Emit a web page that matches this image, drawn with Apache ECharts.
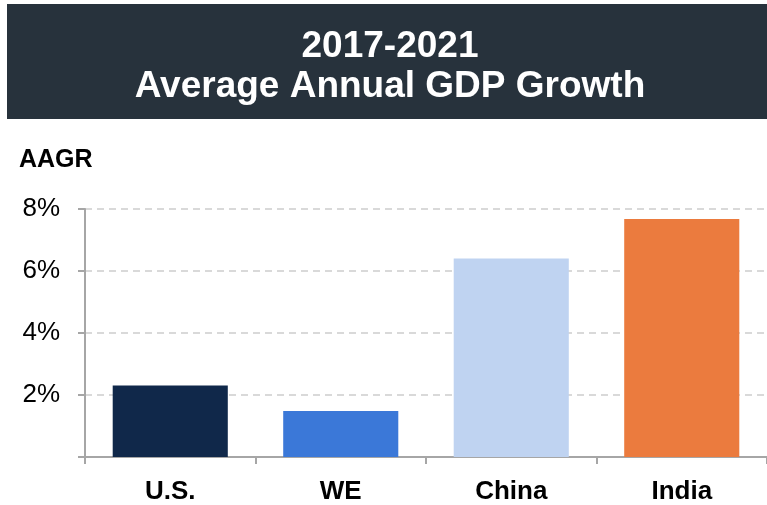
<!DOCTYPE html>
<html>
<head>
<meta charset="utf-8">
<script src="https://cdn.jsdelivr.net/npm/echarts@6/dist/echarts.min.js"></script>
<style>
html,body{margin:0;padding:0;background:#fff;}
#c{width:767px;height:505px;}
</style>
</head>
<body>
<div id="c"></div>
<script>
const categories = ['U.S.', 'WE', 'China', 'India'];
const values = [2.31, 1.48, 6.40, 7.68];
const barColors = ['#10284a', '#3b78d8', '#bfd3f1', '#eb7b3e'];
const yTicks = [0, 2, 4, 6, 8];
const titleLines = ['2017-2021', 'Average Annual GDP Growth'];
const yAxisTitle = 'AAGR';

const chart = echarts.init(document.getElementById('c'), null, {renderer: 'canvas'});
const font = 'Liberation Sans, Arial, Helvetica, sans-serif';
chart.setOption({
  animation: false,
  backgroundColor: '#ffffff',
  graphic: [
    {type: 'rect', shape: {x: 7, y: 4, width: 760, height: 115}, style: {fill: '#27323c'}, z: 0},
    {type: 'text', x: 390, y: 67, style: {text: titleLines.join('\n'), fill: '#ffffff', font: 'bold 37px ' + font, lineHeight: 40, textAlign: 'center', textVerticalAlign: 'middle'}, z: 1},
    {type: 'text', x: 19, y: 160, style: {text: yAxisTitle, fill: '#000000', font: 'bold 25px ' + font, textAlign: 'left', textVerticalAlign: 'middle'}, z: 1}
  ],
  grid: {left: 85, top: 209, right: -5, bottom: 47, containLabel: false},
  xAxis: {
    type: 'category',
    data: categories,
    axisLine: {show: true, lineStyle: {color: '#a6a6a6', width: 2}},
    axisTick: {show: true, length: 7, lineStyle: {color: '#a6a6a6', width: 2}},
    axisLabel: {margin: 22, fontSize: 26, fontWeight: 'bold', color: '#000000', fontFamily: font}
  },
  yAxis: {
    type: 'value',
    min: yTicks[0],
    max: yTicks[yTicks.length - 1],
    interval: 2,
    axisLine: {show: true, lineStyle: {color: '#a6a6a6', width: 2}},
    axisTick: {show: true, length: 7, lineStyle: {color: '#a6a6a6', width: 2}},
    axisLabel: {margin: 25, fontSize: 26, color: '#000000', fontFamily: font,
      formatter: v => v === 0 ? '' : v + '%'},
    splitLine: {show: true, lineStyle: {color: '#d9d9d9', width: 2, type: [7, 5]}}
  },
  series: [{
    type: 'bar',
    data: values.map((v, i) => ({value: v, itemStyle: {color: barColors[i]}})),
    barCategoryGap: '32.5%'
  }]
});
</script>
</body>
</html>
